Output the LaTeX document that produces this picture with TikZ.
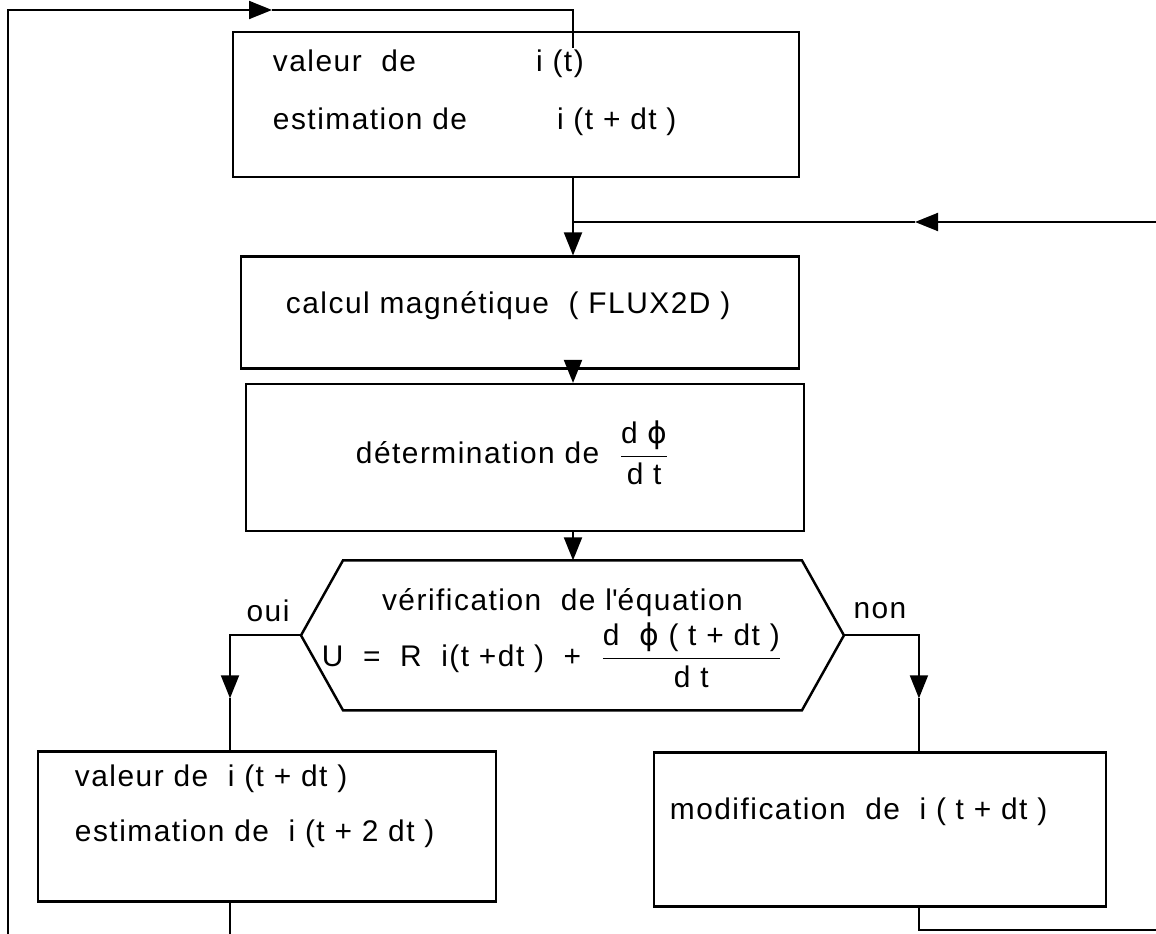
\documentclass[tikz,border=0pt]{standalone}
\usepackage{fontspec}
\setmainfont{Liberation Sans}[LetterSpace=5]
\newfontfamily\phifont{DejaVu Sans}[LetterSpace=5]
\usepackage{amsmath}
\usetikzlibrary{positioning,arrows.meta,calc}

\newcommand{\fluxphi}{{\phifont ϕ}}

\begin{document}
\begin{tikzpicture}[
  font=\fontsize{17}{20}\selectfont,
  >={Triangle[length=4.6mm,width=3.6mm]},
  line width=1.1pt,
  stepbox/.style={draw, line width=1.4pt, inner sep=0pt},
  txt/.style={anchor=west, inner sep=0pt},
  note/.style={inner sep=0pt},
  arrow/.style={->}
]
\useasboundingbox (0,0) rectangle (231.2mm,-186.8mm);

% ---------- Row 1: current value of i ----------
\node[stepbox, minimum width=113.2mm, minimum height=29mm, anchor=north west] (vali) at (46.4mm,-6.2mm) {};
\node[txt] (valitA) at ($(vali.north west)+(8mm,-6.6mm)$) {valeur\ \ de\hspace{24mm}i (t)};
\node[txt] (valitB) at ($(vali.north west)+(8mm,-18.2mm)$) {estimation de\hspace{18mm}i (t + dt )};

% ---------- Row 2: FLUX2D and flux derivative ----------
\node[stepbox, minimum width=111.6mm, minimum height=22.4mm, below=15.4mm of vali.south west, anchor=north west, xshift=1.6mm] (calc) {};
\node[txt] (calct) at ($(calc.west)+(9mm,1.4mm)$) {calcul magnétique\ \ ( FLUX2D )};

\node[stepbox, minimum width=111.6mm, minimum height=29.4mm, below=2.6mm of calc.south west, anchor=north west, xshift=1mm] (deriv) {};
\node[txt] (derivt) at ($(deriv.north west)+(22mm,-14mm)$) {détermination de\ \ $\dfrac{\text{d \fluxphi}}{\text{d t}}$};

% ---------- Row 3: test of the equation ----------
\node[minimum width=91.4mm, minimum height=29.6mm, inner sep=0pt, below=5.6mm of deriv.south west, anchor=north west, xshift=19.6mm] (verif) {};
\coordinate (verifL) at ($(verif.west)+(-8.4mm,0)$);
\coordinate (verifR) at ($(verif.east)+(8.4mm,0)$);
\draw[line width=1.4pt] (verif.north west) -- (verif.north east) -- (verifR)
  -- (verif.south east) -- (verif.south west) -- (verifL) -- cycle;
\node[note] (veriftA) at ($(verif.north)+(-2mm,-8.4mm)$) {vérification\ \ de l\textquotesingle équation};
\node[txt] (veriftB) at ($(verif.west)+(-4.4mm,-4mm)$)
  {U\ \ =\ \ R\ \ i(t +dt )\ \ +\ \ $\dfrac{\text{d\ \ \fluxphi\ ( t + dt )}}{\text{d t}}$};
\node[note] (oui) at ($(verifL)+(-6.6mm,5mm)$) {oui};
\node[note] (non) at ($(verifR)+(7.2mm,5mm)$) {non};

% ---------- Row 4: the two outcomes ----------
\node[stepbox, minimum width=91.6mm, minimum height=30mm, below=8mm of verif.south west, anchor=north west, xshift=-61.2mm] (valnext) {};
\node[txt] (valnextA) at ($(valnext.north west)+(7.4mm,-5.6mm)$) {valeur de\ \ i (t + dt )};
\node[txt] (valnextB) at ($(valnext.north west)+(7.4mm,-16.6mm)$) {estimation de\ \ i (t + 2 dt )};

\node[stepbox, minimum width=90.4mm, minimum height=30.8mm, below=8.2mm of verif.south east, anchor=north west, xshift=-29.8mm] (modif) {};
\node[txt] (modift) at ($(modif.north west)+(3.2mm,-12mm)$) {modification\ \ de\ \ i ( t + dt )};

% ---------- connectors ----------
\coordinate (spine) at ($(vali.south west)+(68.2mm,0)$);
\draw[arrow] (vali.south -| spine) -- (calc.north -| spine);
\draw[arrow] (calc.south -| spine) -- (deriv.north -| spine);
\draw[arrow] (deriv.south -| spine) -- (verif.north -| spine);

% return from the right edge
\coordinate (feedin) at (231.2mm,-44.4mm);
\coordinate (feedarr) at (183mm,-44.4mm);
\draw[arrow] (feedin) -- (feedarr);
\draw (feedarr) -- (feedarr -| spine);

% outer loop back to the first box
\coordinate (loopbot) at (1.6mm,-186.8mm);
\coordinate (looparr) at (54.4mm,-2mm);
\coordinate (vientry) at ($(vali.north -| spine)+(0,-3.4mm)$);
\draw[arrow] (loopbot) |- (looparr);
\draw (looparr) -| (vientry);

% oui branch
\coordinate (ouiin) at ($(valnext.north west)+(38.6mm,0)$);
\coordinate (ouiarr) at ($(ouiin)+(0,10.4mm)$);
\draw[arrow] (verifL) -| (ouiarr);
\draw (ouiarr) -- (ouiin);
\draw (valnext.south -| ouiin) -- (ouiin |- loopbot);

% non branch
\coordinate (nonin) at ($(modif.north west)+(53.2mm,0)$);
\coordinate (nonarr) at ($(nonin)+(0,10.6mm)$);
\coordinate (backout) at (231.2mm,-186mm);
\draw[arrow] (verifR) -| (nonarr);
\draw (nonarr) -- (nonin);
\draw (modif.south -| nonin) |- (backout);

\end{tikzpicture}
\end{document}
